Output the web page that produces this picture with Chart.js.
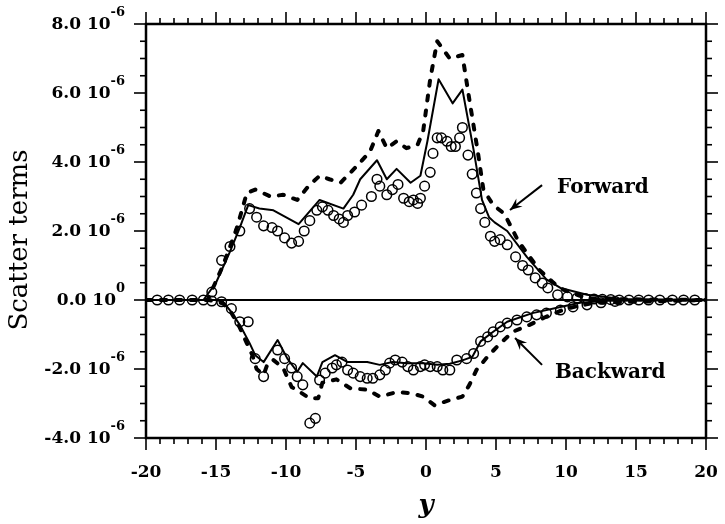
<!DOCTYPE html>
<html>
<head>
<meta charset="utf-8">
<script src="https://cdn.jsdelivr.net/npm/chart.js@4.4.1/dist/chart.umd.min.js"></script>
<style>
  body { margin: 0; background: #fff; }
  canvas { display: block; }
</style>
</head>
<body>
<canvas id="scatterChart" width="725" height="524"></canvas>
<script>

// values are in units of 10^-6
const UNIT = 1e-6;

const xTicks = [-20, -15, -10, -5, 0, 5, 10, 15, 20];
const yTicks = [-4, -2, 0, 2, 4, 6, 8];

// forward scatter
const fwdDashX = [-20, -15.6, -14.5, -13.9, -13.5, -12.8, -12.2, -11.1, -10.2, -9.2, -8.4, -7.6, -6.9, -6.1, -4.9, -4.0, -3.4, -2.8, -2.1, -1.4, -0.6, -0.2, 0.3, 0.8, 1.7, 2.6, 3.1, 3.7, 4.1, 4.8, 5.6, 6.6, 8.1, 9.1, 9.8, 11, 12, 20];
const fwdDashY = [0, 0, 1.0, 1.65, 2.1, 3.1, 3.2, 3.0, 3.05, 2.9, 3.3, 3.6, 3.5, 3.4, 3.9, 4.3, 4.9, 4.4, 4.6, 4.4, 4.5, 4.9, 6.4, 7.5, 7.0, 7.1, 5.8, 4.3, 3.2, 2.75, 2.5, 1.7, 0.87, 0.5, 0.3, 0.12, 0.03, 0];

const fwdSolidX = [-20, -15.9, -15, -14, -13.3, -12.7, -11.9, -10.9, -9.1, -7.6, -5.9, -5.2, -4.7, -3.5, -2.8, -2.1, -1.1, -0.4, 0.1, 0.9, 1.9, 2.6, 3.4, 4.0, 4.5, 4.9, 5.8, 7.2, 8.6, 9.6, 11.5, 14, 20];
const fwdSolidY = [0, 0, 0.5, 1.4, 2.1, 2.75, 2.65, 2.6, 2.2, 2.9, 2.65, 3.05, 3.5, 4.05, 3.5, 3.8, 3.4, 3.6, 4.6, 6.4, 5.7, 6.1, 4.35, 2.9, 2.4, 2.25, 2.0, 1.25, 0.6, 0.35, 0.15, 0.03, 0];

const fwdDotX = [-19.2, -18.4, -17.6, -16.7, -15.9, -15.3, -14.6, -14.0, -13.3, -12.6, -12.1, -11.6, -11.0, -10.6, -10.1, -9.6, -9.1, -8.7, -8.3, -7.8, -7.4, -7.0, -6.6, -6.2, -5.9, -5.6, -5.1, -4.6, -3.9, -3.5, -3.3, -2.8, -2.4, -2.0, -1.6, -1.2, -0.9, -0.6, -0.4, -0.1, 0.3, 0.5, 0.8, 1.1, 1.5, 1.8, 2.1, 2.4, 2.6, 3.0, 3.3, 3.6, 3.9, 4.2, 4.6, 4.9, 5.3, 5.8, 6.4, 6.9, 7.3, 7.8, 8.3, 8.7, 9.4, 10.1, 10.8, 11.4, 12.0, 12.6, 13.2, 13.8, 14.5, 15.2, 15.9, 16.7, 17.6, 18.4, 19.2];
const fwdDotY = [0, 0, 0, 0, 0, 0.23, 1.15, 1.55, 2.0, 2.65, 2.4, 2.15, 2.1, 2.0, 1.8, 1.65, 1.7, 2.0, 2.3, 2.6, 2.7, 2.6, 2.45, 2.35, 2.25, 2.45, 2.55, 2.75, 3.0, 3.5, 3.3, 3.05, 3.2, 3.35, 2.95, 2.85, 2.9, 2.8, 2.95, 3.3, 3.7, 4.25, 4.7, 4.7, 4.6, 4.45, 4.45, 4.7, 5.0, 4.2, 3.65, 3.1, 2.65, 2.25, 1.85, 1.7, 1.75, 1.6, 1.25, 1.0, 0.87, 0.64, 0.49, 0.35, 0.15, 0.09, 0.06, 0.04, 0.03, 0.02, 0.01, 0, 0, 0, 0, 0, 0, 0, 0];

// backward scatter
const bwdDashX = [-20, -15.5, -14.5, -14, -13.3, -12.8, -12.4, -12.1, -11.6, -11.3, -10.9, -10.2, -9.6, -9, -8.3, -7.7, -7.4, -6.4, -5.4, -4.2, -3.3, -2.1, -1.1, -0.2, 0.6, 1.7, 2.6, 3.1, 3.6, 4.4, 5.2, 6.2, 7.4, 8.5, 10, 12, 20];
const bwdDashY = [0, 0, -0.1, -0.3, -0.8, -1.25, -1.6, -2.0, -2.17, -1.83, -1.74, -1.97, -2.52, -2.67, -2.85, -2.85, -2.4, -2.3, -2.56, -2.6, -2.8, -2.67, -2.7, -2.8, -3.05, -2.9, -2.8, -2.46, -2.03, -1.64, -1.3, -0.92, -0.72, -0.5, -0.25, -0.08, 0];

const bwdSolidX = [-20, -15, -14.5, -14, -13.3, -12.6, -12.2, -11.6, -10.6, -9.9, -9.2, -8.8, -7.8, -7.4, -6.5, -5.6, -4.2, -3.3, -2.4, -1.4, -0.2, 0.8, 1.7, 2.6, 3.3, 3.9, 4.8, 5.8, 7.6, 9.6, 11, 13, 20];
const bwdSolidY = [0, 0, -0.05, -0.3, -0.72, -1.25, -1.6, -1.8, -1.16, -1.7, -2.08, -1.83, -2.22, -1.8, -1.6, -1.8, -1.8, -1.88, -1.8, -1.83, -1.83, -1.88, -1.85, -1.75, -1.65, -1.2, -0.92, -0.63, -0.38, -0.2, -0.08, -0.02, 0];

const bwdDotX = [-15.3, -14.6, -13.9, -13.3, -12.7, -12.2, -11.6, -10.6, -10.1, -9.6, -9.2, -8.8, -8.3, -7.9, -7.6, -7.2, -6.7, -6.4, -6.0, -5.6, -5.2, -4.7, -4.2, -3.8, -3.3, -2.9, -2.6, -2.2, -1.7, -1.3, -0.9, -0.4, -0.1, 0.3, 0.8, 1.2, 1.7, 2.2, 2.9, 3.4, 3.9, 4.4, 4.8, 5.3, 5.8, 6.5, 7.2, 7.9, 8.6, 9.6, 10.5, 11.5, 12.5, 13.5];
const bwdDotY = [-0.03, -0.05, -0.25, -0.63, -0.63, -1.7, -2.22, -1.45, -1.7, -1.97, -2.22, -2.46, -3.57, -3.43, -2.32, -2.12, -1.97, -1.88, -1.8, -2.03, -2.12, -2.22, -2.27, -2.27, -2.17, -2.03, -1.83, -1.74, -1.8, -1.93, -2.03, -1.93, -1.88, -1.93, -1.93, -2.03, -2.03, -1.74, -1.7, -1.55, -1.2, -1.07, -0.92, -0.78, -0.67, -0.58, -0.49, -0.43, -0.38, -0.29, -0.2, -0.14, -0.08, -0.04];

const zeroX = [-20, 20];
const zeroY = [0, 0];

function pts(xs, ys) {
  return xs.map((x, i) => ({ x: x, y: ys[i] * UNIT }));
}

function lineSet(xs, ys, width, dash) {
  return {
    data: pts(xs, ys),
    showLine: true,
    borderColor: '#000',
    borderWidth: width,
    borderDash: dash,
    borderCapStyle: dash.length ? 'round' : 'butt',
    borderJoinStyle: 'round',
    pointRadius: 0,
    tension: 0
  };
}

function dotSet(xs, ys) {
  return {
    data: pts(xs, ys),
    showLine: false,
    borderColor: '#000',
    backgroundColor: 'rgba(255,255,255,0)',
    borderWidth: 1.5,
    pointRadius: 4.8,
    pointStyle: 'circle'
  };
}

const SERIF = '"DejaVu Serif", serif';

// annotation text + arrows in data units (x, y*1e-6)
const notes = [
  { text: 'Forward', tx: 9.36, ty: 3.1, ax0: 8.29, ay0: 3.33, ax1: 6.0, ay1: 2.61 },
  { text: 'Backward', tx: 9.21, ty: -2.26, ax0: 8.29, ay0: -1.88, ax1: 6.36, ay1: -1.1 }
];

const frame = {
  id: 'frame',
  afterDatasetsDraw(chart) {
    const ctx = chart.ctx;
    const a = chart.chartArea;
    const x = chart.scales.x, y = chart.scales.y;

    function seg(x0, y0, x1, y1) {
      ctx.beginPath(); ctx.moveTo(x0, y0); ctx.lineTo(x1, y1); ctx.stroke();
    }

    ctx.save();
    ctx.strokeStyle = '#000';
    ctx.fillStyle = '#000';
    ctx.lineWidth = 2.5;
    ctx.strokeRect(a.left, a.top, a.right - a.left, a.bottom - a.top);

    // ticks
    ctx.lineWidth = 1.6;
    for (let v = -20; v <= 20; v++) {
      const px = x.getPixelForValue(v);
      const len = v % 5 === 0 ? 12 : 6;
      seg(px, a.bottom, px, a.bottom + len);
      seg(px, a.top, px, a.top - len);
    }
    for (let v = -4; v <= 8; v += 0.5) {
      const py = y.getPixelForValue(v * UNIT);
      const len = v % 2 === 0 ? 12 : 6;
      seg(a.left, py, a.left - len, py);
      seg(a.right, py, a.right + len, py);
    }

    // x tick labels
    ctx.font = 'bold 17px ' + SERIF;
    ctx.textAlign = 'center';
    ctx.textBaseline = 'alphabetic';
    xTicks.forEach(v => {
      ctx.fillText(String(v), x.getPixelForValue(v), a.bottom + 39);
    });

    // y tick labels like "8.0 10^-6"
    yTicks.forEach(v => {
      const py = y.getPixelForValue(v * UNIT);
      const sup = v === 0 ? '0' : '-6';
      const main = v.toFixed(1) + ' 10';
      ctx.textAlign = 'right';
      ctx.font = 'bold 13px ' + SERIF;
      const right = a.left - 21;
      ctx.fillText(sup, right, py - 8);
      const sw = ctx.measureText(sup).width;
      ctx.font = 'bold 17px ' + SERIF;
      ctx.fillText(main, right - sw, py + 5);
    });

    // axis titles
    ctx.font = '26px ' + SERIF;
    ctx.textAlign = 'center';
    ctx.save();
    ctx.translate(27, 240);
    ctx.rotate(-Math.PI / 2);
    ctx.fillText('Scatter terms', 0, 0);
    ctx.restore();

    ctx.font = 'italic bold 26px ' + SERIF;
    ctx.fillText('y', 426, 513);

    // annotations
    ctx.font = 'bold 20px ' + SERIF;
    ctx.textAlign = 'left';
    ctx.lineWidth = 2;
    notes.forEach(n => {
      ctx.fillText(n.text, x.getPixelForValue(n.tx), y.getPixelForValue(n.ty * UNIT));
      const x0 = x.getPixelForValue(n.ax0), y0 = y.getPixelForValue(n.ay0 * UNIT);
      const x1 = x.getPixelForValue(n.ax1), y1 = y.getPixelForValue(n.ay1 * UNIT);
      seg(x0, y0, x1, y1);
      const ang = Math.atan2(y1 - y0, x1 - x0);
      const h = 13, w = 0.4;
      ctx.beginPath();
      ctx.moveTo(x1 - h * Math.cos(ang - w), y1 - h * Math.sin(ang - w));
      ctx.lineTo(x1, y1);
      ctx.lineTo(x1 - h * Math.cos(ang + w), y1 - h * Math.sin(ang + w));
      ctx.lineTo(x1 - 0.6 * h * Math.cos(ang), y1 - 0.6 * h * Math.sin(ang));
      ctx.closePath();
      ctx.fill();
    });

    ctx.restore();
  }
};

new Chart(document.getElementById('scatterChart'), {
  type: 'scatter',
  data: {
    datasets: [
      lineSet(zeroX, zeroY, 2, []),
      lineSet(fwdDashX, fwdDashY, 4, [5, 10]),
      lineSet(fwdSolidX, fwdSolidY, 2, []),
      dotSet(fwdDotX, fwdDotY),
      lineSet(bwdDashX, bwdDashY, 4, [5, 10]),
      lineSet(bwdSolidX, bwdSolidY, 2, []),
      dotSet(bwdDotX, bwdDotY)
    ]
  },
  options: {
    responsive: false,
    animation: false,
    layout: { padding: { left: 146, right: 19, top: 24, bottom: 86 } },
    plugins: { legend: { display: false }, tooltip: { enabled: false } },
    scales: {
      x: { type: 'linear', min: -20, max: 20, display: false },
      y: { type: 'linear', min: -4 * UNIT, max: 8 * UNIT, display: false }
    }
  },
  plugins: [frame]
});

</script>
</body>
</html>
